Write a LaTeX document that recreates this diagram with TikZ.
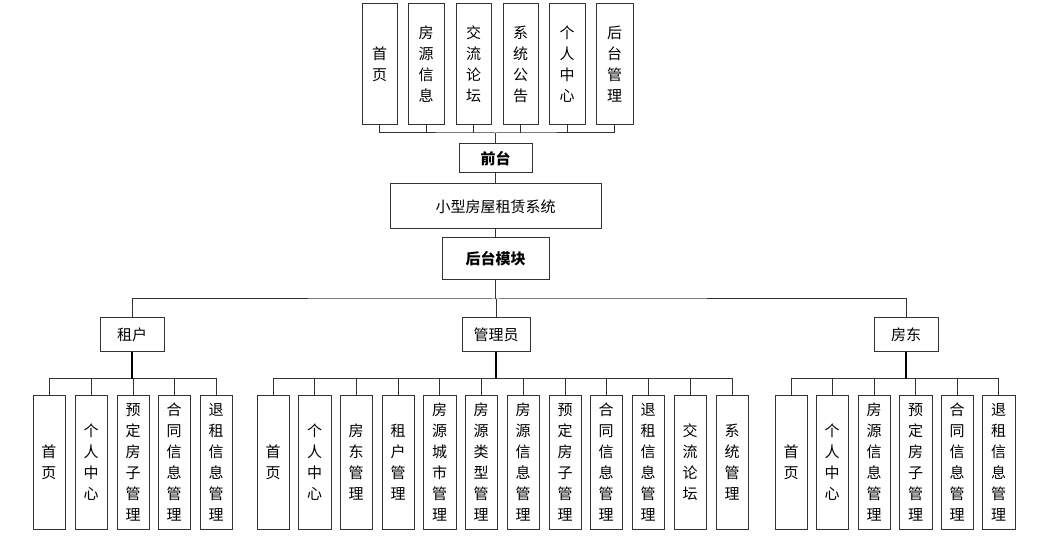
\documentclass[tikz,border=0pt]{standalone}
\usepackage{fontspec}
\setmainfont{Noto Sans CJK SC}
\begin{document}
\begin{tikzpicture}[x=1pt,y=-1pt,
  bx/.style={draw=black!80,line width=1pt,fill=white,inner sep=0pt,align=center,font=\fontsize{15}{21}\selectfont},
  ln/.style={draw=black!80,line width=1pt},
  tk/.style={draw=black,line width=1.8pt}]
\useasboundingbox (0,0) rectangle (1037,537);
\newcommand\bxat[6]{\node[bx,minimum width=#3-#2,minimum height=#5-#4] (#1) at ({(#2+#3)/2},{(#4+#5)/2}) {#6};}
% top
\bxat{t1}{362}{397}{4}{125}{首\\页}
\bxat{t2}{408}{444}{4}{125}{房\\源\\信\\息}
\bxat{t3}{456}{491}{4}{125}{交\\流\\论\\坛}
\bxat{t4}{503}{538}{4}{125}{系\\统\\公\\告}
\bxat{t5}{549}{585}{4}{125}{个\\人\\中\\心}
\bxat{t6}{596}{633}{4}{125}{后\\台\\管\\理}
\bxat{qt}{459}{532}{144}{173}{\bfseries 前台}
\bxat{sys}{390}{601}{184}{229}{小型房屋租赁系统}
\bxat{ht}{442}{549}{238}{280}{\bfseries 后台模块}
\coordinate (bt) at (495.5,133);
\draw[ln] (t1.south) |- (bt) -| (t6.south);
\foreach \i in {2,...,5} \draw[ln] (t\i.south) -- (t\i.south|-bt);
\draw[ln] (qt.north) -- (bt);
\draw[ln] (qt) -- (sys); \draw[ln] (sys) -- (ht);
% second level
\bxat{zh}{100}{164}{318}{352}{租户}
\bxat{gl}{462}{530}{318}{352}{管理员}
\bxat{fd}{874}{938}{318}{352}{房东}
\coordinate (b2) at (495.5,299);
\draw[ln] (ht.south) -- (b2);
\draw[ln] (zh.north) |- (b2) -| (fd.north);
\draw[ln] (gl.north) -- (gl.north|-b2);
% leaves
\def\ly{396}\def\lb{529}
\bxat{a1}{33}{65}{\ly}{\lb}{首\\页}
\bxat{a2}{75}{107}{\ly}{\lb}{个\\人\\中\\心}
\bxat{a3}{117}{149}{\ly}{\lb}{预\\定\\房\\子\\管\\理}
\bxat{a4}{158}{190}{\ly}{\lb}{合\\同\\信\\息\\管\\理}
\bxat{a5}{200}{232}{\ly}{\lb}{退\\租\\信\\息\\管\\理}
\bxat{b1}{257}{289}{\ly}{\lb}{首\\页}
\bxat{b2}{298}{331}{\ly}{\lb}{个\\人\\中\\心}
\bxat{b3}{340}{372}{\ly}{\lb}{房\\东\\管\\理}
\bxat{b4}{382}{414}{\ly}{\lb}{租\\户\\管\\理}
\bxat{b5}{423}{456}{\ly}{\lb}{房\\源\\城\\市\\管\\理}
\bxat{b6}{465}{497}{\ly}{\lb}{房\\源\\类\\型\\管\\理}
\bxat{b7}{507}{539}{\ly}{\lb}{房\\源\\信\\息\\管\\理}
\bxat{b8}{549}{581}{\ly}{\lb}{预\\定\\房\\子\\管\\理}
\bxat{b9}{590}{622}{\ly}{\lb}{合\\同\\信\\息\\管\\理}
\bxat{b10}{632}{664}{\ly}{\lb}{退\\租\\信\\息\\管\\理}
\bxat{b11}{674}{706}{\ly}{\lb}{交\\流\\论\\坛}
\bxat{b12}{716}{748}{\ly}{\lb}{系\\统\\管\\理}
\bxat{c1}{775}{807}{\ly}{\lb}{首\\页}
\bxat{c2}{816}{848}{\ly}{\lb}{个\\人\\中\\心}
\bxat{c3}{858}{890}{\ly}{\lb}{房\\源\\信\\息\\管\\理}
\bxat{c4}{899}{932}{\ly}{\lb}{预\\定\\房\\子\\管\\理}
\bxat{c5}{941}{973}{\ly}{\lb}{合\\同\\信\\息\\管\\理}
\bxat{c6}{982}{1015}{\ly}{\lb}{退\\租\\信\\息\\管\\理}
\coordinate (ya) at (0,379);
\draw[ln] (a1.north) |- (ya-|a5.north) -- (a5.north);
\foreach \i in {2,3,4} \draw[ln] (a\i.north) -- (a\i.north|-ya);
\draw[tk] (zh.south) -- (zh.south|-ya);
\draw[ln] (b1.north) |- (ya-|b12.north) -- (b12.north);
\foreach \i in {2,...,11} \draw[ln] (b\i.north) -- (b\i.north|-ya);
\draw[tk] (gl.south) -- (gl.south|-ya);
\draw[ln] (c1.north) |- (ya-|c6.north) -- (c6.north);
\foreach \i in {2,...,5} \draw[ln] (c\i.north) -- (c\i.north|-ya);
\draw[tk] (fd.south) -- (fd.south|-ya);
\end{tikzpicture}
\end{document}
